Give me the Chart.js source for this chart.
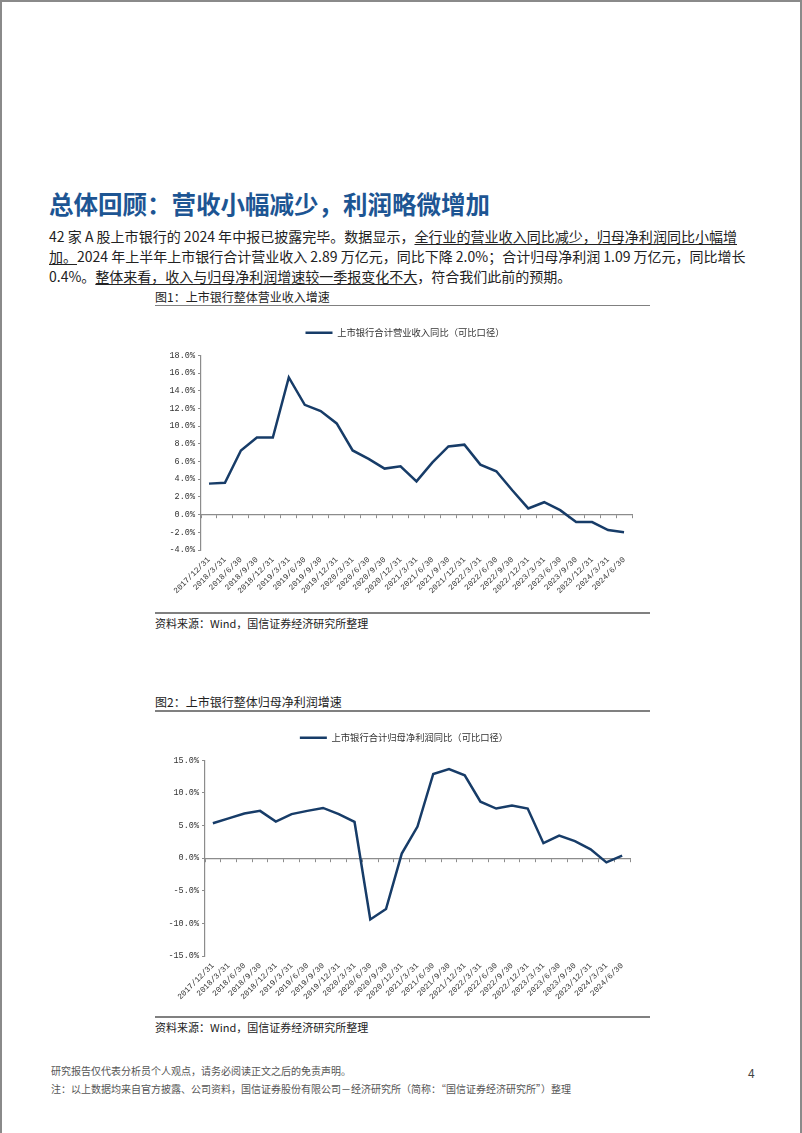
<!DOCTYPE html>
<html>
<head>
<meta charset="utf-8">
<script src="https://cdn.jsdelivr.net/npm/chart.js@4.4.1/dist/chart.umd.min.js"></script>
<style>
  html, body { margin: 0; padding: 0; background: #fff; }
  body { width: 802px; height: 1133px; position: relative; overflow: hidden; font-family: "Noto Sans CJK SC", "Noto Sans", sans-serif; color: #222; }
  .frame-top { position: absolute; left: 0; top: 0; width: 802px; height: 2px; background: #8a8a8a; }
  .frame-left { position: absolute; left: 0; top: 0; width: 2px; height: 1133px; background: #8a8a8a; }
  .frame-right { position: absolute; left: 800px; top: 0; width: 2px; height: 1133px; background: #8a8a8a; }
  .heading { position: absolute; left: 49px; top: 189px; font-size: 24.5px; font-weight: bold; color: #1d5593; white-space: nowrap; line-height: 30px; }
  .para { position: absolute; left: 49px; top: 226px; width: 688px; font-size: 14px; line-height: 20px; color: #222; }
  .para div { white-space: nowrap; text-align: justify; text-align-last: justify; }
  .para div.last { text-align-last: left; }
  .u { text-decoration: underline; text-underline-offset: 2px; }
  .figtitle { position: absolute; left: 155px; font-size: 12px; line-height: 16px; color: #222; white-space: nowrap; }
  .rule { position: absolute; left: 155px; width: 495px; height: 1.5px; background: #808080; }
  .source { position: absolute; left: 155px; font-size: 11px; line-height: 14px; color: #222; white-space: nowrap; }
  .chartbox { position: absolute; left: 140px; height: 290px; }
  .footer { position: absolute; left: 51px; font-size: 10px; line-height: 14px; color: #555; white-space: nowrap; }
  .pagenum { position: absolute; left: 748px; top: 1064px; font-size: 12px; color: #444; }
</style>
</head>
<body>
<div class="frame-top"></div>
<div class="frame-left"></div>
<div class="frame-right"></div>

<div class="heading">总体回顾：营收小幅减少，利润略微增加</div>
<div class="para">
  <div>42 家 A 股上市银行的 2024 年中报已披露完毕。数据显示，<span class="u">全行业的营业收入同比减少，归母净利润同比小幅增</span></div>
  <div><span class="u">加。</span>2024 年上半年上市银行合计营业收入 2.89 万亿元，同比下降 2.0%；合计归母净利润 1.09 万亿元，同比增长</div>
  <div class="last">0.4%。<span class="u">整体来看，收入与归母净利润增速较一季报变化不大</span>，符合我们此前的预期。</div>
</div>

<div class="figtitle" style="top:289px;">图1：上市银行整体营业收入增速</div>
<div class="rule" style="top:304.5px;"></div>
<div class="chartbox" style="top:310px; width:530px;"><canvas id="c1"></canvas></div>
<div class="rule" style="top:612px;"></div>
<div class="source" style="top:616px;">资料来源：Wind，国信证券经济研究所整理</div>

<div class="figtitle" style="top:694px;">图2：上市银行整体归母净利润增速</div>
<div class="rule" style="top:710px;"></div>
<div class="chartbox" style="top:715px; width:528px;"><canvas id="c2"></canvas></div>
<div class="rule" style="top:1016px;"></div>
<div class="source" style="top:1020px;">资料来源：Wind，国信证券经济研究所整理</div>

<div class="footer" style="top:1064px;">研究报告仅代表分析员个人观点，请务必阅读正文之后的免责声明。</div>
<div class="footer" style="top:1082px;">注：以上数据均来自官方披露、公司资料，国信证券股份有限公司－经济研究所（简称：“国信证券经济研究所”）整理</div>
<div class="pagenum">4</div>

<script>
// ---- data ----
const categories = ['2017/12/31','2018/3/31','2018/6/30','2018/9/30','2018/12/31','2019/3/31','2019/6/30','2019/9/30','2019/12/31','2020/3/31','2020/6/30','2020/9/30','2020/12/31','2021/3/31','2021/6/30','2021/9/30','2021/12/31','2022/3/31','2022/6/30','2022/9/30','2022/12/31','2023/3/31','2023/6/30','2023/9/30','2023/12/31','2024/3/31','2024/6/30'];
const revenueGrowth = [3.5,3.6,7.25,8.7,8.7,15.5,12.4,11.7,10.3,7.25,6.3,5.2,5.45,3.75,5.9,7.7,7.9,5.65,4.9,2.75,0.7,1.4,0.5,-0.85,-0.85,-1.75,-2.0];
const profitGrowth = [5.36,6.1,6.85,7.25,5.6,6.75,7.25,7.7,6.75,5.55,-9.4,-7.8,0.7,4.85,12.9,13.65,12.7,8.65,7.6,8.05,7.6,2.3,3.45,2.6,1.35,-0.65,0.4];
const revenueTicks = [-4,-2,0,2,4,6,8,10,12,14,16,18];
const profitTicks = [-15,-10,-5,0,5,10,15];
const revenueLabel = '上市银行合计营业收入同比（可比口径）';
const profitLabel = '上市银行合计归母净利润同比（可比口径）';

const LINE = '#173c68';
const AXIS = '#8c8c8c';
const MONO = '"Liberation Mono", "DejaVu Sans Mono", monospace';

// adds extra space below the legend (gap between legend and plot)
const legendGap = {
  id: 'legendGap',
  beforeLayout(chart, args, opts) {
    const lg = chart.legend;
    if (!lg || lg._gapWrapped) return;
    const orig = lg.fit;
    lg.fit = function () { orig.call(this); this.height += (opts.extra || 0); };
    lg._gapWrapped = true;
  }
};

function makeChart(id, label, values, ticks, yWidth, rightGap, xHeight) {
  const step = ticks[1] - ticks[0];
  return new Chart(document.getElementById(id), {
    type: 'line',
    data: {
      labels: categories,
      datasets: [{
        label: label,
        data: values,
        borderColor: LINE,
        backgroundColor: LINE,
        borderWidth: 2.5,
        pointRadius: 0,
        tension: 0,
        fill: false
      }]
    },
    plugins: [legendGap],
    options: {
      responsive: true,
      maintainAspectRatio: false,
      animation: false,
      layout: { padding: { left: 0, right: 0, top: 0, bottom: 0 } },
      plugins: {
        tooltip: { enabled: false },
        legendGap: { extra: 8 },
        legend: {
          display: true,
          position: 'top',
          labels: {
            usePointStyle: true,
            pointStyle: 'line',
            pointStyleWidth: 27,
            boxHeight: 9,
            padding: 18,
            color: '#333',
            font: { family: '"Noto Sans CJK SC", sans-serif', size: 9.3 }
          }
        }
      },
      scales: {
        x: {
          type: 'category',
          position: 'bottom',
          offset: true,
          grid: { display: false, drawTicks: false },
          border: { display: false },
          ticks: {
            autoSkip: false,
            maxRotation: 45,
            minRotation: 45,
            padding: 5,
            color: '#333',
            font: { family: MONO, size: 8 }
          },
          afterFit: s => { s.height = xHeight; }
        },
        x2: {
          type: 'category',
          position: { y: 0 },
          offset: true,
          grid: { display: true, drawOnChartArea: false, drawTicks: true, tickLength: 3, offset: true, color: AXIS, lineWidth: 1 },
          border: { display: true, color: AXIS, width: 1.2 },
          ticks: { display: false, autoSkip: false },
          afterFit: s => { s.height = 0; }
        },
        y: {
          position: 'left',
          min: ticks[0],
          max: ticks[ticks.length - 1],
          grid: { display: true, drawOnChartArea: false, drawTicks: true, tickLength: 3, color: AXIS },
          border: { display: true, color: AXIS, width: 1.2 },
          ticks: {
            stepSize: step,
            padding: 3,
            color: '#333',
            font: { family: MONO, size: 8.5 },
            callback: v => v.toFixed(1) + '%'
          },
          afterFit: s => { s.width = yWidth; }
        },
        yRightSpace: {
          position: 'right',
          display: true,
          grid: { display: false, drawTicks: false },
          border: { display: false },
          ticks: { display: false },
          afterFit: s => { s.width = rightGap; }
        }
      }
    }
  });
}

makeChart('c1', revenueLabel, revenueGrowth, revenueTicks, 61, 38, 50);
makeChart('c2', profitLabel, profitGrowth, profitTicks, 65, 38, 49);
</script>
</body>
</html>
